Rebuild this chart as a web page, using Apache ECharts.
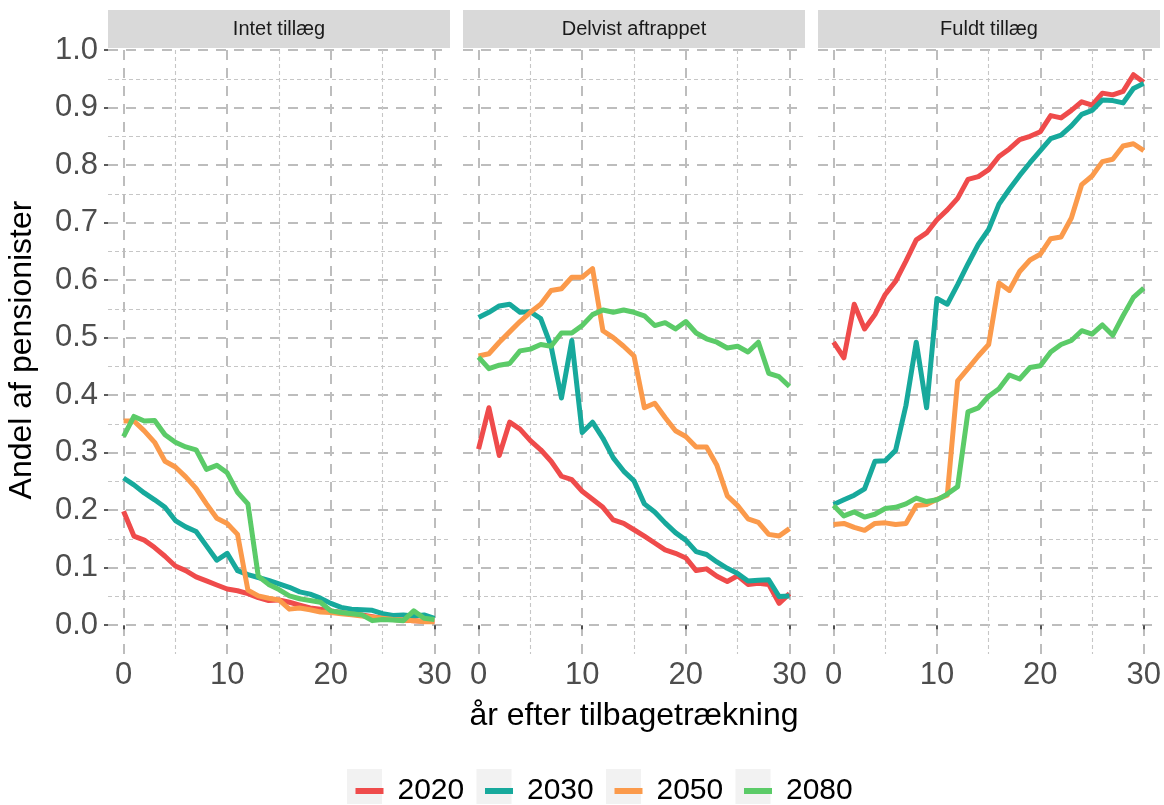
<!DOCTYPE html>
<html>
<head>
<meta charset="utf-8">
<script src="https://cdn.jsdelivr.net/npm/echarts@6/dist/echarts.min.js"></script>
<style>
  html, body { margin: 0; padding: 0; background: #ffffff; }
  #chart { width: 1164px; height: 805px; }
</style>
</head>
<body>
<div id="chart"></div>
<script>
// Years after retirement (x values, shared by every line)
const yearsAfter = [0,1,2,3,4,5,6,7,8,9,10,11,12,13,14,15,16,17,18,19,20,21,22,23,24,25,26,27,28,29,30];

// Legend groups and facet titles
const cohorts = ['2020', '2030', '2050', '2080'];
const facets = ['Intet tillæg', 'Delvist aftrappet', 'Fuldt tillæg'];

// Axis tick labels
const xTicks = [0, 10, 20, 30];
const yTicks = [0.0, 0.1, 0.2, 0.3, 0.4, 0.5, 0.6, 0.7, 0.8, 0.9, 1.0];

// Intet tillæg
const intet2020 = [0.198,0.155,0.148,0.135,0.120,0.103,0.095,0.084,0.077,0.070,0.063,0.060,0.055,0.048,0.043,0.044,0.040,0.035,0.030,0.028,0.025,0.022,0.020,0.018,0.015,0.012,0.010,0.009,0.008,0.007,0.007];
const intet2030 = [0.256,0.244,0.230,0.218,0.205,0.182,0.171,0.163,0.138,0.113,0.125,0.095,0.088,0.083,0.078,0.072,0.066,0.058,0.054,0.047,0.038,0.031,0.028,0.027,0.026,0.020,0.017,0.018,0.016,0.018,0.012];
const intet2050 = [0.355,0.355,0.338,0.318,0.285,0.275,0.258,0.238,0.211,0.186,0.177,0.158,0.061,0.051,0.047,0.044,0.028,0.030,0.027,0.023,0.022,0.020,0.018,0.016,0.014,0.012,0.010,0.009,0.008,0.006,0.006];
const intet2080 = [0.328,0.363,0.355,0.356,0.331,0.318,0.310,0.305,0.271,0.278,0.265,0.231,0.211,0.085,0.071,0.062,0.051,0.046,0.043,0.040,0.025,0.022,0.020,0.018,0.008,0.010,0.009,0.008,0.025,0.012,0.010];

// Delvist aftrappet
const delvist2020 = [0.306,0.378,0.295,0.353,0.341,0.321,0.305,0.285,0.259,0.253,0.233,0.219,0.205,0.183,0.177,0.166,0.155,0.143,0.131,0.125,0.117,0.095,0.098,0.085,0.076,0.086,0.071,0.073,0.071,0.038,0.055];
const delvist2030 = [0.535,0.544,0.555,0.558,0.544,0.545,0.533,0.485,0.395,0.495,0.335,0.353,0.325,0.291,0.268,0.251,0.211,0.197,0.178,0.161,0.148,0.128,0.123,0.110,0.099,0.090,0.077,0.078,0.079,0.050,0.051];
const delvist2050 = [0.468,0.472,0.492,0.510,0.528,0.544,0.558,0.582,0.585,0.605,0.605,0.620,0.512,0.500,0.485,0.468,0.378,0.386,0.361,0.338,0.328,0.310,0.310,0.278,0.225,0.208,0.185,0.179,0.158,0.155,0.168];
const delvist2080 = [0.466,0.446,0.452,0.455,0.477,0.480,0.488,0.485,0.508,0.508,0.521,0.540,0.548,0.544,0.548,0.544,0.538,0.521,0.526,0.515,0.528,0.508,0.498,0.492,0.482,0.485,0.475,0.492,0.438,0.432,0.415];

// Fuldt tillæg
const fuldt2020 = [0.492,0.465,0.558,0.515,0.540,0.575,0.598,0.633,0.670,0.682,0.705,0.722,0.742,0.775,0.780,0.792,0.815,0.828,0.844,0.850,0.858,0.886,0.882,0.895,0.910,0.904,0.925,0.922,0.928,0.957,0.944];
const fuldt2030 = [0.210,0.218,0.226,0.237,0.285,0.286,0.304,0.382,0.492,0.378,0.568,0.558,0.592,0.628,0.662,0.688,0.732,0.758,0.782,0.804,0.825,0.846,0.852,0.868,0.888,0.895,0.913,0.912,0.908,0.933,0.942];
const fuldt2050 = [0.175,0.177,0.170,0.165,0.177,0.178,0.175,0.177,0.208,0.210,0.219,0.226,0.425,0.446,0.468,0.488,0.595,0.582,0.615,0.635,0.645,0.672,0.675,0.708,0.766,0.781,0.806,0.810,0.833,0.837,0.825];
const fuldt2080 = [0.208,0.190,0.197,0.188,0.193,0.203,0.205,0.211,0.221,0.215,0.218,0.228,0.241,0.371,0.378,0.398,0.411,0.435,0.428,0.448,0.451,0.475,0.488,0.495,0.512,0.506,0.522,0.504,0.538,0.570,0.586];

const facetSeries = [
  [intet2020, intet2030, intet2050, intet2080],
  [delvist2020, delvist2030, delvist2050, delvist2080],
  [fuldt2020, fuldt2030, fuldt2050, fuldt2080]
];

// ---- styling / layout ----
const palette = ['#EF4B4B', '#17A99C', '#FB9A4B', '#5BCB68'];
const FONT = "'Liberation Sans', Arial, sans-serif";
const panelLeft = [108, 463, 818];
const panelWidth = 342;
const panelTop = 50;          // y = 1.0
const zeroY = 625;            // y = 0.0
const panelBottom = 654;      // y = -0.05 (lower expansion)
const xPad = panelWidth * 1.5 / 33; // 5% expansion of the 0..30 range

const majorLine = { color: '#bdbdbd', width: 2, type: [10, 8] };
const minorLine = { color: '#c6c6c6', width: 1.1, type: [4, 3] };

const grids = [], xAxes = [], yAxes = [], series = [], graphics = [];

facets.forEach((title, p) => {
  const L = panelLeft[p];
  // grid 2p: data + vertical grid lines (x spans 0..30)
  grids.push({ left: L + xPad, width: panelWidth - 2 * xPad, top: panelTop, height: panelBottom - panelTop, containLabel: false });
  // grid 2p+1: horizontal grid lines across the full panel width (y spans 0..1)
  grids.push({ left: L, width: panelWidth, top: panelTop, height: zeroY - panelTop, containLabel: false });

  xAxes.push({
    gridIndex: 2 * p, type: 'value', min: 0, max: 30, interval: 10,
    axisLine: { show: false },
    axisTick: { show: true, length: 4, lineStyle: { color: '#333333', width: 1.6 } },
    axisLabel: { show: true, fontSize: 31, color: '#4d4d4d', fontFamily: FONT, margin: 6,
      customValues: xTicks },
    splitLine: { show: true, lineStyle: majorLine },
    minorTick: { show: false, splitNumber: 2 },
    minorSplitLine: { show: true, lineStyle: minorLine }
  });
  xAxes.push({ gridIndex: 2 * p + 1, type: 'value', min: 0, max: 1, show: false });

  yAxes.push({ gridIndex: 2 * p, type: 'value', min: -0.05, max: 1, show: false, splitLine: { show: false } });
  yAxes.push({
    gridIndex: 2 * p + 1, type: 'value', min: 0, max: 1, interval: 0.1,
    axisLine: { show: false },
    axisTick: { show: p === 0, length: 4, lineStyle: { color: '#333333', width: 1.6 } },
    axisLabel: { show: p === 0, fontSize: 31, color: '#4d4d4d', fontFamily: FONT, margin: 10,
      formatter: v => v.toFixed(1), customValues: yTicks },
    splitLine: { show: true, lineStyle: majorLine },
    minorTick: { show: false, splitNumber: 2 },
    minorSplitLine: { show: true, lineStyle: minorLine }
  });

  facetSeries[p].forEach((vals, i) => {
    series.push({
      name: cohorts[i], type: 'line', xAxisIndex: 2 * p, yAxisIndex: 2 * p,
      data: yearsAfter.map((x, j) => [x, vals[j]]),
      showSymbol: false, symbol: 'none', silent: true, z: 2 + i,
      lineStyle: { color: palette[i], width: 5, join: 'round', cap: 'butt' },
      itemStyle: { color: palette[i] }
    });
  });

  // facet strip
  graphics.push({ type: 'rect', left: L, top: 10, shape: { width: panelWidth, height: 38 }, style: { fill: '#d9d9d9' }, z: 1 });
  graphics.push({ type: 'text', x: L + panelWidth / 2, y: 29, style: { text: title, fontSize: 20, fontFamily: FONT, fill: '#1a1a1a', align: 'center', verticalAlign: 'middle' }, z: 2 });
});

// axis titles
graphics.push({ type: 'text', x: 634, y: 716, style: { text: 'år efter tilbagetrækning', fontSize: 32, fontFamily: FONT, fill: '#000000', align: 'center', verticalAlign: 'middle' } });
graphics.push({ type: 'text', x: 22, y: 350, rotation: Math.PI / 2, style: { text: 'Andel af pensionister', fontSize: 32, fontFamily: FONT, fill: '#000000', align: 'center', verticalAlign: 'middle' } });

// legend key backgrounds and one legend per key
const keyLeft = [347, 476.5, 606, 735.5];
const legends = cohorts.map((name, i) => {
  graphics.push({ type: 'rect', left: keyLeft[i], top: 769, shape: { width: 35, height: 35 }, style: { fill: '#f2f2f2' }, z: 0 });
  return {
    data: [name], left: keyLeft[i] + 3.5, top: 771, orient: 'horizontal',
    icon: 'rect', itemWidth: 28, itemHeight: 6, selectedMode: false,
    textStyle: { fontSize: 30, fontFamily: FONT, color: '#000000', padding: [0, 0, 0, 9] }
  };
});

const chart = echarts.init(document.getElementById('chart'), null, { renderer: 'canvas' });
chart.setOption({
  backgroundColor: '#ffffff',
  animation: false,
  grid: grids,
  xAxis: xAxes,
  yAxis: yAxes,
  legend: legends,
  series: series,
  graphic: graphics
});
</script>
</body>
</html>
